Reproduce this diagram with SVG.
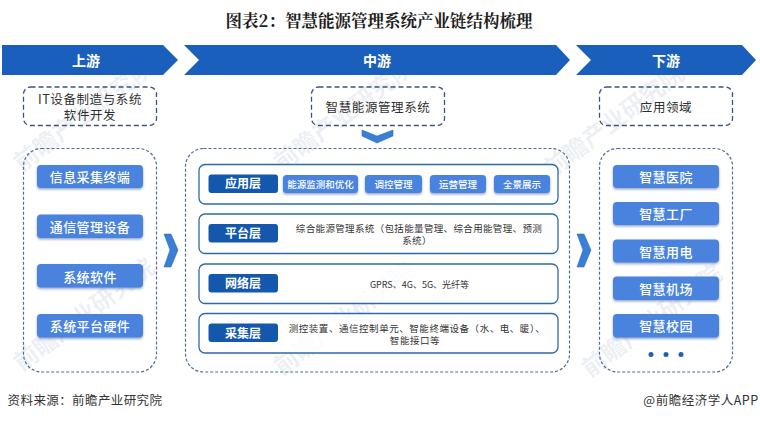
<svg xmlns="http://www.w3.org/2000/svg" width="760" height="421" viewBox="0 0 760 421">
<defs>
<filter id="sh" x="-10%" y="-20%" width="120%" height="150%"><feDropShadow dx="0" dy="1.5" stdDeviation="1.2" flood-color="#3a5f9a" flood-opacity="0.55"/></filter>
</defs>
<style>
text{font-family:"Noto Sans CJK SC","Liberation Sans",sans-serif;text-anchor:middle}
.ar{fill:#1b5fbd}
.art{fill:#fff;font-size:14px;font-weight:700}
.dash{fill:none;stroke:#3f5378;stroke-width:1.3;stroke-dasharray:5 3}
.dt{fill:#2f2f2f;font-size:12.5px;letter-spacing:.6px}
.cont{fill:none;stroke:#4f6d96;stroke-width:1.2;stroke-dasharray:3 2}
.btn{fill:#4a83dd;filter:url(#sh)}
.bt{fill:#fff;font-size:13px;font-weight:500;letter-spacing:.4px}
.row{fill:#fff;fill-opacity:.8;stroke:#2f6aa8;stroke-width:1.3}
.lab{fill:#1458ad}
.lt{fill:#fff;font-size:12px;font-weight:700}
.ab{fill:#4a83dd;filter:url(#sh)}
.at{fill:#fff;font-size:9.5px;font-weight:500}
.rt{fill:#333;font-size:9.5px;letter-spacing:.35px}
.chev{fill:#3a7fd6;stroke:#1b5fbd;stroke-width:.5}
.wm{fill:#c3cfdd;opacity:.3;font-size:24px;font-weight:700;text-anchor:start}
</style>
<rect width="760" height="421" fill="#fff"/>
<g id="watermarks">
<text class="wm" transform="translate(22 172) rotate(-37)">前瞻产业研究院</text>
<text class="wm" transform="translate(282 172) rotate(-37)">前瞻产业研究院</text>
<text class="wm" transform="translate(552 178) rotate(-37)">前瞻产业研究院</text>
<text class="wm" transform="translate(22 372) rotate(-37)">前瞻产业研究院</text>
<text class="wm" transform="translate(282 376) rotate(-37)">前瞻产业研究院</text>
<text class="wm" transform="translate(590 378) rotate(-37)">前瞻产业研究院</text>
</g>
<text x="379" y="27" style="font-family:'Noto Serif CJK SC','Noto Sans CJK SC',serif;font-size:16.500px;font-weight:700;fill:#1d1d1d">图表2：智慧能源管理系统产业链结构梳理</text>
<g id="stage-upstream">
<polygon class="ar" points="2,45 163,45 178,60 163,75 2,75"/>
<text class="art" x="86" y="66">上游</text>
</g>
<g id="stage-midstream">
<polygon class="ar" points="184,45 556,45 570,60 556,75 184,75 199,60"/>
<text class="art" x="377" y="66">中游</text>
</g>
<g id="stage-downstream">
<polygon class="ar" points="576,45 742,45 756,60 742,75 576,75 591,60"/>
<text class="art" x="666" y="66">下游</text>
</g>
<g id="up-head">
<rect class="dash" x="23.500" y="87" width="133" height="38.500" rx="7"/>
<text class="dt"><tspan x="90" y="104">IT设备制造与系统</tspan><tspan x="90" y="120">软件开发</tspan></text>
</g>
<g id="mid-head">
<rect class="dash" x="311.500" y="87" width="133" height="38.500" rx="7"/>
<text class="dt" x="378" y="112">智慧能源管理系统</text>
</g>
<g id="down-head">
<rect class="dash" x="599.500" y="87" width="133" height="38.500" rx="7"/>
<text class="dt" x="666" y="112">应用领域</text>
</g>
<g id="up-container"><rect class="cont" x="23.500" y="148.500" width="133" height="223.500" rx="18"/></g>
<g id="mid-container"><rect class="cont" x="185.500" y="148.500" width="384" height="223.500" rx="18"/></g>
<g id="down-container"><rect class="cont" x="599.500" y="148.500" width="133" height="223.500" rx="18"/></g>
<g id="connectors">
<polygon class="chev" points="362,130 377,136 393,130 393,136 377,143 362,136"/>
<polygon class="chev" points="164,234 171,234 178,250 171,267 164,267 170,250"/>
<polygon class="chev" points="577,234 584,234 591,250 584,267 577,267 583,250"/>
</g>
<g id="up-1"><rect class="btn" x="37" y="165" width="106" height="23" rx="4"/><text class="bt" x="90" y="182">信息采集终端</text></g>
<g id="up-2"><rect class="btn" x="37" y="214.500" width="106" height="23.500" rx="4"/><text class="bt" x="90" y="232">通信管理设备</text></g>
<g id="up-3"><rect class="btn" x="37" y="264" width="106" height="23.500" rx="4"/><text class="bt" x="90" y="281.500">系统软件</text></g>
<g id="up-4"><rect class="btn" x="37" y="314" width="106" height="23.500" rx="4"/><text class="bt" x="90" y="331">系统平台硬件</text></g>
<g id="layer-app">
<rect class="row" x="199" y="164.500" width="359" height="39.500" rx="6"/>
<rect class="lab" x="208.500" y="174.500" width="69.500" height="18.500" rx="3"/>
<text class="lt" x="243" y="188">应用层</text>
<rect class="ab" x="283" y="175" width="75" height="18" rx="3.500"/><text class="at" x="320.500" y="188">能源监测和优化</text>
<rect class="ab" x="365" y="175" width="57" height="18" rx="3.500"/><text class="at" x="393.500" y="188">调控管理</text>
<rect class="ab" x="430" y="175" width="56" height="18" rx="3.500"/><text class="at" x="458" y="188">运营管理</text>
<rect class="ab" x="494" y="175" width="56" height="18" rx="3.500"/><text class="at" x="522" y="188">全景展示</text>
</g>
<g id="layer-platform">
<rect class="row" x="199" y="214" width="359" height="39.500" rx="6"/>
<rect class="lab" x="208.500" y="224" width="69.500" height="18.500" rx="3"/>
<text class="lt" x="243" y="238">平台层</text>
<text class="rt"><tspan x="419" y="232">综合能源管理系统（包括能量管理、综合用能管理、预测</tspan><tspan x="417" y="244">系统）</tspan></text>
</g>
<g id="layer-network">
<rect class="row" x="199" y="264" width="359" height="39.500" rx="6"/>
<rect class="lab" x="208.500" y="274" width="69.500" height="18.500" rx="3"/>
<text class="lt" x="243" y="288">网络层</text>
<text class="rt" x="419.500" y="288" style="font-size:9px;letter-spacing:0">GPRS、4G、5G、光纤等</text>
</g>
<g id="layer-collect">
<rect class="row" x="199" y="313.500" width="359" height="39.500" rx="6"/>
<rect class="lab" x="208.500" y="323.500" width="69.500" height="18.500" rx="3"/>
<text class="lt" x="243" y="338">采集层</text>
<text class="rt" style="letter-spacing:.55px"><tspan x="417" y="332">测控装置、通信控制单元、智能终端设备（水、电、暖）、</tspan><tspan x="415" y="344">智能接口等</tspan></text>
</g>
<g id="down-1"><rect class="btn" x="613" y="165" width="106" height="23" rx="4"/><text class="bt" x="666" y="182">智慧医院</text></g>
<g id="down-2"><rect class="btn" x="613" y="202" width="106" height="23" rx="4"/><text class="bt" x="666" y="219">智慧工厂</text></g>
<g id="down-3"><rect class="btn" x="613" y="239.500" width="106" height="23" rx="4"/><text class="bt" x="666" y="256.500">智慧用电</text></g>
<g id="down-4"><rect class="btn" x="613" y="276.500" width="106" height="23.500" rx="4"/><text class="bt" x="666" y="294">智慧机场</text></g>
<g id="down-5"><rect class="btn" x="613" y="314" width="106" height="23.500" rx="4"/><text class="bt" x="666" y="331">智慧校园</text></g>
<g id="dots" fill="#1b5fbd"><circle cx="651" cy="354.500" r="2.500"/><circle cx="666" cy="354.500" r="2.500"/><circle cx="681" cy="354.500" r="2.500"/></g>
<text x="85" y="405" style="font-size:12.500px;fill:#333;letter-spacing:.4px">资料来源：前瞻产业研究院</text>
<text x="701" y="405" style="font-size:12.500px;fill:#333;letter-spacing:.5px">@前瞻经济学人APP</text>
</svg>
